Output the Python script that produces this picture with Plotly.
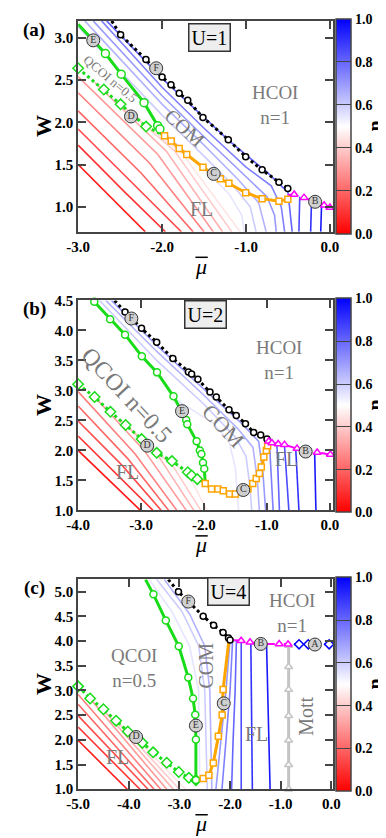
import plotly.graph_objects as go

SERIF = "Liberation Serif"
GREEN = "#19dc19"
ORANGE = "#ffa500"
MAGENTA = "#ff00ff"
GRAYTXT = "#7a7a7a"
FRAME = "#444444"

# ---------------- panel (a): U=1 ----------------
a_black_x = [-2.60, -2.494, -2.192, -2.000, -1.894, -1.796, -1.694, -1.513, -1.211, -1.004, -0.808, -0.608, -0.502]
a_black_y = [3.20, 3.035, 2.744, 2.535, 2.446, 2.345, 2.260, 2.058, 1.795, 1.593, 1.438, 1.291, 1.217]
a_gsol_x = [-3.00, -2.675, -2.487, -2.215, -2.053, -2.026, -2.000]
a_gsol_y = [3.16, 2.814, 2.570, 2.233, 1.961, 1.922, 1.850]
a_gdot_x = [-3.00, -2.694, -2.494, -2.190, -2.000]
a_gdot_y = [2.64, 2.388, 2.213, 1.950, 1.857]
a_orng_x = [-1.970, -1.891, -1.796, -1.706, -1.513, -1.306, -1.204, -1.004, -0.808, -0.608, -0.502]
a_orng_y = [1.841, 1.779, 1.690, 1.620, 1.469, 1.333, 1.279, 1.167, 1.097, 1.066, 1.089]
a_mag_x = [-0.426, -0.309, -0.180, -0.070, 0.000]
a_mag_y = [1.147, 1.109, 1.060, 1.020, 0.992]
a_tags = ["E", "F", "D", "C", "B"]
a_tag_x = [-2.82, -2.07, -2.37, -1.385, -0.177]
a_tag_y = [2.97, 2.64, 2.07, 1.39, 1.06]
a_contours = [
    (0.05, [-3.0, -2.20], [1.50, 0.705]),
    (0.10, [-3.0, -2.45, -1.96], [1.73, 1.18, 0.705]),
    (0.15, [-3.0, -2.35, -1.77], [1.92, 1.28, 0.705]),
    (0.20, [-3.0, -2.25, -1.63], [2.135, 1.40, 0.705]),
    (0.25, [-3.0, -2.15, -1.50], [2.35, 1.52, 0.705]),
    (0.30, [-3.0, -2.05, -1.39], [2.54, 1.62, 0.705]),
    (0.35, [-2.80, -1.95, -1.28], [2.47, 1.66, 0.705]),
    (0.40, [-2.50, -1.85, -1.17], [2.22, 1.66, 0.705]),
    (0.45, [-2.20, -1.75, -1.07], [1.97, 1.62, 0.705]),
    (0.55, [-2.05, -1.50, -1.20, -1.05, -1.02], [1.95, 1.45, 1.15, 0.90, 0.705]),
    (0.60, [-3.0, -2.0, -1.5, -1.15, -0.95, -0.88], [3.13, 2.085, 1.60, 1.25, 1.00, 0.705]),
    (0.65, [-2.92, -2.0, -1.5, -1.10, -0.85, -0.76], [3.20, 2.215, 1.73, 1.33, 1.05, 0.705]),
    (0.70, [-2.82, -2.0, -1.5, -1.05, -0.75, -0.66, -0.64], [3.20, 2.315, 1.83, 1.40, 1.12, 0.90, 0.705]),
    (0.75, [-2.72, -2.0, -1.5, -1.0, -0.70, -0.58, -0.54], [3.20, 2.415, 1.93, 1.47, 1.25, 1.00, 0.705]),
    (0.80, [-2.66, -2.0, -1.2, -0.75, -0.50, -0.45], [3.20, 2.52, 1.78, 1.41, 1.17, 0.705]),
    (0.85, [-0.37, -0.36], [0.705, 1.12]),
    (0.90, [-0.23, -0.22], [0.705, 1.07]),
    (0.95, [-0.11, -0.10], [0.705, 1.02]),
]

# ---------------- panel (b): U=2 ----------------
b_black_x = [-3.42, -3.254, -2.992, -2.751, -2.494, -2.247, -2.196, -2.096, -1.904, -1.804, -1.602, -1.486, -1.340, -1.209, -1.098, -0.998]
b_black_y = [4.50, 4.308, 4.035, 3.804, 3.531, 3.306, 3.273, 3.186, 2.972, 2.890, 2.676, 2.583, 2.446, 2.298, 2.255, 2.189]
b_gsol_x = [-3.743, -3.491, -3.254, -2.987, -2.746, -2.484, -2.282, -2.265, -2.116, -2.065, -2.040, -2.015, -1.995, -1.980]
b_gsol_y = [4.478, 4.188, 3.930, 3.569, 3.301, 2.901, 2.507, 2.435, 2.151, 1.997, 1.942, 1.795, 1.696, 1.470]
b_gdot_x = [-4.000, -3.738, -3.486, -3.244, -2.992, -2.751, -2.509, -2.257, -2.196, -2.106, -1.980]
b_gdot_y = [3.104, 2.890, 2.643, 2.424, 2.189, 1.959, 1.822, 1.636, 1.581, 1.521, 1.470]
b_orng_x = [-1.980, -1.879, -1.778, -1.693, -1.592, -1.501, -1.300, -1.224, -1.169, -1.118, -1.088, -1.048, -1.008, -0.987, -0.980]
b_orng_y = [1.450, 1.357, 1.357, 1.329, 1.274, 1.274, 1.362, 1.450, 1.532, 1.614, 1.723, 1.888, 1.997, 2.079, 2.150]
b_mag_x = [-0.97, -0.92, -0.82, -0.72, -0.52, -0.38, -0.20, 0.01]
b_mag_y = [2.151, 2.124, 2.107, 2.096, 2.030, 1.980, 1.965, 1.932]
b_tags = ["F", "E", "D", "C", "B"]
b_tag_x = [-3.154, -2.348, -2.902, -1.375, -0.383]
b_tag_y = [4.199, 2.654, 2.079, 1.340, 1.981]
b_contours = [
    (0.05, [-4.0, -3.01], [2.00, 1.0]),
    (0.10, [-4.0, -2.81], [2.24, 1.0]),
    (0.15, [-4.0, -3.3, -2.68], [2.49, 1.75, 1.0]),
    (0.20, [-4.0, -3.2, -2.56], [2.74, 1.85, 1.0]),
    (0.25, [-4.0, -3.1, -2.43], [2.98, 1.95, 1.0]),
    (0.30, [-3.70, -2.95, -2.28], [2.85, 2.00, 1.0]),
    (0.35, [-3.35, -2.75, -2.16], [2.52, 1.95, 1.0]),
    (0.40, [-2.95, -2.50, -2.05], [2.15, 1.75, 1.0]),
    (0.45, [-2.50, -2.20, -1.95], [1.82, 1.50, 1.0]),
    (0.55, [-2.45, -1.85, -1.60, -1.50, -1.45], [2.85, 2.45, 2.15, 1.70, 1.0]),
    (0.60, [-3.66, -2.75, -2.0, -1.5, -1.33, -1.27, -1.24], [4.5, 3.50, 2.77, 2.22, 1.90, 1.40, 1.0]),
    (0.65, [-3.56, -2.75, -2.0, -1.45, -1.22, -1.15, -1.12], [4.5, 3.65, 2.92, 2.35, 2.05, 1.50, 1.0]),
    (0.70, [-3.47, -2.75, -2.0, -1.40, -1.13, -1.06, -1.02], [4.5, 3.75, 3.02, 2.45, 2.15, 1.60, 1.0]),
    (0.75, [-0.96, -0.90], [2.15, 1.0]),
    (0.80, [-0.84, -0.80], [2.11, 1.0]),
    (0.85, [-0.72, -0.65], [2.09, 1.0]),
    (0.90, [-0.54, -0.49], [2.01, 1.0]),
    (0.95, [-0.24, -0.22], [1.97, 1.0]),
]

# ---------------- panel (c): U=4 ----------------
c_black_x = [-3.22, -3.019, -2.531, -2.325, -2.138, -2.031, -2.000]
c_black_y = [5.245, 5.000, 4.504, 4.319, 4.174, 4.061, 4.021]
c_gsol_x = [-3.669, -3.513, -3.269, -3.013, -2.825, -2.731, -2.688, -2.675, -2.675]
c_gsol_y = [5.245, 4.947, 4.418, 3.896, 3.261, 2.838, 2.507, 2.005, 1.185]
c_gdot_x = [-5.000, -4.763, -4.500, -4.250, -4.019, -3.731, -3.519, -3.250, -3.013, -2.813, -2.675]
c_gdot_y = [3.083, 2.838, 2.620, 2.388, 2.170, 1.939, 1.747, 1.536, 1.350, 1.231, 1.185]
c_orng_x = [-2.656, -2.531, -2.419, -2.331, -2.231, -2.156, -2.138, -2.019]
c_orng_y = [1.178, 1.218, 1.284, 1.529, 2.071, 2.501, 3.017, 4.041]
c_mag_x = [-2.00, -1.781, -1.606, -1.394, -1.031, -0.856]
c_mag_y = [4.021, 4.008, 3.975, 3.942, 3.942, 3.935]
c_blu_x = [-0.856, -0.638, -0.456, -0.325, -0.044]
c_blu_y = [3.935, 3.935, 3.935, 3.930, 3.935]
c_mott_x = [-0.844, -0.844, -0.844, -0.844, -0.844, -0.844, -0.844]
c_mott_y = [1.0, 1.496, 1.992, 2.488, 3.017, 3.479, 3.909]
c_tags = ["F", "E", "D", "C", "B", "A"]
c_tag_x = [-2.825, -2.675, -3.856, -2.125, -1.394, -0.325]
c_tag_y = [4.80, 2.289, 2.058, 2.739, 3.942, 3.930]
c_contours = [
    (0.05, [-5.0, -4.03], [1.99, 1.0]),
    (0.10, [-5.0, -3.78], [2.26, 1.0]),
    (0.15, [-5.0, -3.62], [2.49, 1.0]),
    (0.20, [-5.0, -3.50], [2.72, 1.0]),
    (0.25, [-5.0, -3.37], [2.92, 1.0]),
    (0.30, [-4.80, -3.25], [2.88, 1.0]),
    (0.35, [-4.55, -3.12], [2.66, 1.0]),
    (0.40, [-4.25, -3.00], [2.39, 1.0]),
    (0.45, [-3.90, -2.88], [2.08, 1.0]),
    (0.55, [-3.60, -3.15, -2.80, -2.62, -2.60], [5.25, 4.60, 3.90, 3.00, 1.20]),
    (0.60, [-3.45, -2.95, -2.62, -2.50, -2.45], [5.25, 4.60, 3.90, 3.00, 1.0]),
    (0.65, [-3.30, -2.80, -2.50, -2.40, -2.36], [5.25, 4.55, 3.90, 3.00, 1.0]),
    (0.70, [-2.00, -2.08, -2.18, -2.28], [4.02, 3.00, 2.00, 1.0]),
    (0.75, [-1.95, -2.00, -2.08, -2.16], [4.02, 3.00, 2.00, 1.0]),
    (0.80, [-1.875, -1.90, -1.94, -1.97], [4.00, 3.00, 2.00, 1.0]),
    (0.85, [-1.78, -1.78, -1.78], [4.00, 2.50, 1.0]),
    (0.90, [-1.59, -1.57, -1.56], [3.97, 2.50, 1.0]),
    (0.95, [-1.28, -1.24, -1.21], [3.94, 2.50, 1.0]),
]

cbar_vals = [0.0, 0.2, 0.4, 0.6, 0.8, 1.0]
cbar_text = ["0.0", "0.2", "0.4", "0.6", "0.8", "1.0"]
colorscale = [[0.0, "rgb(255,0,0)"], [0.5, "rgb(255,255,255)"], [1.0, "rgb(0,0,255)"]]


def ncolor(n):
    if n <= 0.5:
        t = n / 0.5
        return "rgb(255,%d,%d)" % (255 * t, 255 * t)
    t = (n - 0.5) / 0.5
    return "rgb(%d,%d,255)" % (255 * (1 - t), 255 * (1 - t))


W, H = 386, 838
X0, X1 = 61.3 / W, 330 / W
panels = [
    # suffix, y top px, y bottom px, xrange, yrange, yticks, xticks, panel label
    ("", 5, 220, [-3.0, 0.035], [0.705, 3.2], [1.0, 1.5, 2.0, 2.5, 3.0], [-3, -2, -1, 0], "(a)"),
    ("2", 290, 504, [-4.0, 0.05], [1.0, 4.5], [1.0, 1.5, 2.0, 2.5, 3.0, 3.5, 4.0, 4.5], [-4, -3, -2, -1, 0], "(b)"),
    ("3", 574.3, 788.3, [-5.0, 0.03], [1.0, 5.25], [1.0, 1.5, 2.0, 2.5, 3.0, 3.5, 4.0, 4.5, 5.0], [-5, -4, -3, -2, -1, 0], "(c)"),
]

fig = go.Figure()


def line(sfx, x, y, color, width, dash="solid"):
    fig.add_trace(go.Scatter(x=x, y=y, mode="lines", xaxis="x" + sfx, yaxis="y" + sfx,
                             line=dict(color=color, width=width, dash=dash),
                             showlegend=False, hoverinfo="skip"))


def marks(sfx, x, y, color, symbol, size, fill="white"):
    fig.add_trace(go.Scatter(x=x, y=y, mode="markers", xaxis="x" + sfx, yaxis="y" + sfx,
                             marker=dict(symbol=symbol, size=size, color=fill,
                                         line=dict(color=color, width=1.5)),
                             cliponaxis=False, showlegend=False, hoverinfo="skip"))


def tags(sfx, x, y, names):
    fig.add_trace(go.Scatter(x=x, y=y, mode="markers+text", text=names, xaxis="x" + sfx, yaxis="y" + sfx,
                             textposition="middle center",
                             textfont=dict(family=SERIF, size=10, color="#333333"),
                             marker=dict(size=13, color="#d0d0d0", line=dict(color="#333333", width=1)),
                             cliponaxis=False, showlegend=False, hoverinfo="skip"))


# contour lines of constant n
for sfx, cont in [("", a_contours), ("2", b_contours), ("3", c_contours)]:
    for n, xs, ys in cont:
        line(sfx, xs, ys, ncolor(n), 1.6)

# panel (a) boundaries
line("", a_gdot_x, a_gdot_y, GREEN, 3, "dot")
line("", a_gsol_x, a_gsol_y, GREEN, 3)
line("", [a_gsol_x[-1]] + a_orng_x, [a_gsol_y[-1]] + a_orng_y, ORANGE, 3)
line("", a_black_x, a_black_y, "black", 3, "dot")
line("", [a_orng_x[-1]] + a_mag_x, [a_orng_y[-1] + 0.05] + a_mag_y, MAGENTA, 2, "dash")
marks("", a_gdot_x[:-1], a_gdot_y[:-1], GREEN, "diamond", 8)
marks("", a_gsol_x[1:-1], a_gsol_y[1:-1], GREEN, "circle", 8)
marks("", a_orng_x, a_orng_y, ORANGE, "square", 6)
marks("", a_black_x[1:], a_black_y[1:], "black", "circle", 6)
marks("", a_mag_x, a_mag_y, MAGENTA, "triangle-up", 7)
tags("", a_tag_x, a_tag_y, a_tags)

# panel (b) boundaries
line("2", b_gdot_x, b_gdot_y, GREEN, 3, "dot")
line("2", b_gsol_x, b_gsol_y, GREEN, 3)
line("2", b_orng_x, b_orng_y, ORANGE, 3)
line("2", b_black_x, b_black_y, "black", 3, "dot")
line("2", b_mag_x, b_mag_y, MAGENTA, 2, "dash")
marks("2", b_gdot_x[:-1], b_gdot_y[:-1], GREEN, "diamond", 8)
marks("2", b_gsol_x[:-1], b_gsol_y[:-1], GREEN, "circle", 7)
marks("2", b_orng_x[:-1], b_orng_y[:-1], ORANGE, "square", 6)
marks("2", b_black_x[1:], b_black_y[1:], "black", "circle", 6)
marks("2", b_mag_x, b_mag_y, MAGENTA, "triangle-up", 7)
tags("2", b_tag_x, b_tag_y, b_tags)

# panel (c) boundaries
line("3", c_mott_x, c_mott_y, "#c4c4c4", 3)
marks("3", c_mott_x, c_mott_y, "#c4c4c4", "triangle-up", 7)
line("3", c_gdot_x, c_gdot_y, GREEN, 3, "dot")
line("3", c_gsol_x, c_gsol_y, GREEN, 3)
line("3", c_orng_x, c_orng_y, ORANGE, 3)
line("3", c_black_x, c_black_y, "black", 3, "dot")
line("3", c_mag_x, c_mag_y, MAGENTA, 2, "dash")
line("3", c_blu_x, c_blu_y, "blue", 2, "dot")
marks("3", c_gdot_x, c_gdot_y, GREEN, "diamond", 8)
marks("3", c_gsol_x[1:], c_gsol_y[1:], GREEN, "circle", 7)
marks("3", c_orng_x[1:-1], c_orng_y[1:-1], ORANGE, "square", 6)
marks("3", c_black_x[1:], c_black_y[1:], "black", "circle", 6)
marks("3", c_mag_x[1:], c_mag_y[1:], MAGENTA, "triangle-up", 7)
marks("3", c_blu_x[1:], c_blu_y[1:], "blue", "diamond", 7)
tags("3", c_tag_x, c_tag_y, c_tags)

annotations = []
shapes = []
layout = {}
for sfx, top, bot, xr, yr, yt, xt, plabel in panels:
    ydom = [1 - bot / H, 1 - top / H]
    common = dict(showline=True, linecolor=FRAME, linewidth=1.5, mirror="ticks", ticks="inside",
                  ticklen=8, tickwidth=1.5, tickcolor=FRAME, showgrid=False, zeroline=False,
                  tickfont=dict(family=SERIF, size=15, color="black", weight="bold"))
    layout["xaxis" + sfx] = dict(domain=[X0, X1], range=xr, anchor="y" + sfx,
                                 tickvals=xt, ticktext=["%.1f" % v for v in xt], **common)
    layout["yaxis" + sfx] = dict(domain=ydom, range=yr, anchor="x" + sfx,
                                 tickvals=yt, ticktext=["%.1f" % v for v in yt], **common)
    yc = (ydom[0] + ydom[1]) / 2
    # colorbar via a dummy trace
    fig.add_trace(go.Scatter(x=[None], y=[None], mode="markers", xaxis="x" + sfx, yaxis="y" + sfx,
                             marker=dict(color=[0.5], cmin=0, cmax=1, colorscale=colorscale, showscale=True,
                                         colorbar=dict(thickness=15, len=bot - top, lenmode="pixels",
                                                       x=333 / W, xanchor="left", xpad=0, y=yc, yanchor="middle",
                                                       ypad=0, outlinecolor=FRAME, outlinewidth=1.5,
                                                       ticks="inside", ticklen=15, tickwidth=1, tickcolor=FRAME,
                                                       tickvals=cbar_vals, ticktext=cbar_text,
                                                       tickfont=dict(family=SERIF, size=14, color="black",
                                                                     weight="bold"))),
                             showlegend=False, hoverinfo="skip"))
    pc = dict(xref="paper", yref="paper", showarrow=False, xanchor="center", yanchor="middle")
    annotations += [
        dict(text="W", x=25 / W, y=yc, textangle=-90,
             font=dict(family=SERIF, size=22, color="black", weight="bold"), **pc),
        dict(text="n", x=374.5 / W, y=yc, textangle=-90,
             font=dict(family=SERIF, size=20, color="black", weight="bold"), **pc),
        dict(text="<i>\u03bc</i>", x=191 / W, y=1 - (bot + 35) / H,
             font=dict(family=SERIF, size=22, color="black"), **pc),
        dict(text=plabel, x=15 / W, y=1 - (top + 9) / H,
             font=dict(family=SERIF, size=19, color="black", weight="bold"), **pc),
    ]
    # overline of the mu symbol
    shapes.append(dict(type="line", xref="paper", yref="paper", x0=185 / W, x1=198 / W,
                       y0=1 - (bot + 26) / H, y1=1 - (bot + 26) / H, line=dict(color="black", width=1.5)))


def note(sfx, text, x, y, size=20, angle=0):
    annotations.append(dict(text=text, x=x, y=y, xref="x" + sfx, yref="y" + sfx, showarrow=False,
                            textangle=angle, font=dict(family=SERIF, size=size, color=GRAYTXT)))


def ubox(sfx, text, x, y):
    annotations.append(dict(text=text, x=x, y=y, xref="x" + sfx, yref="y" + sfx, showarrow=False,
                            bgcolor="#eeeeee", bordercolor="#333333", borderwidth=1.5, borderpad=2,
                            font=dict(family=SERIF, size=20, color="black")))


ubox("", "U=1", -1.44, 3.0)
note("", "HCOI<br>n=1", -0.66, 2.20, 19)
note("", "COM", -1.725, 1.934, 20, 42)
note("", "FL", -1.525, 0.973)
note("", "QCOI n=0.5", -2.62, 2.52, 13, 40)

ubox("2", "U=2", -1.98, 4.27)
note("2", "HCOI<br>n=1", -0.80, 3.50, 19)
note("2", "QCOI n=0.5", -3.224, 2.928, 24, 47)
note("2", "COM", -1.703, 2.408, 22, 47)
note("2", "FL", -3.214, 1.641)
note("2", "FL", -0.695, 1.860)

ubox("3", "U=4", -2.03, 5.0)
note("3", "HCOI<br>n=1", -0.77, 4.57, 19)
note("3", "QCOI<br>n=0.5", -3.906, 3.46, 19)
note("3", "COM", -2.469, 3.512, 20, -90)
note("3", "FL", -4.219, 1.661)
note("3", "FL", -1.469, 2.124)
note("3", "Mott", -0.50, 2.468, 20, -90)

fig.update_layout(width=W, height=H, margin=dict(l=0, r=0, t=0, b=0),
                  paper_bgcolor="white", plot_bgcolor="white",
                  annotations=annotations, shapes=shapes, **layout)

fig.write_html("out.html")
